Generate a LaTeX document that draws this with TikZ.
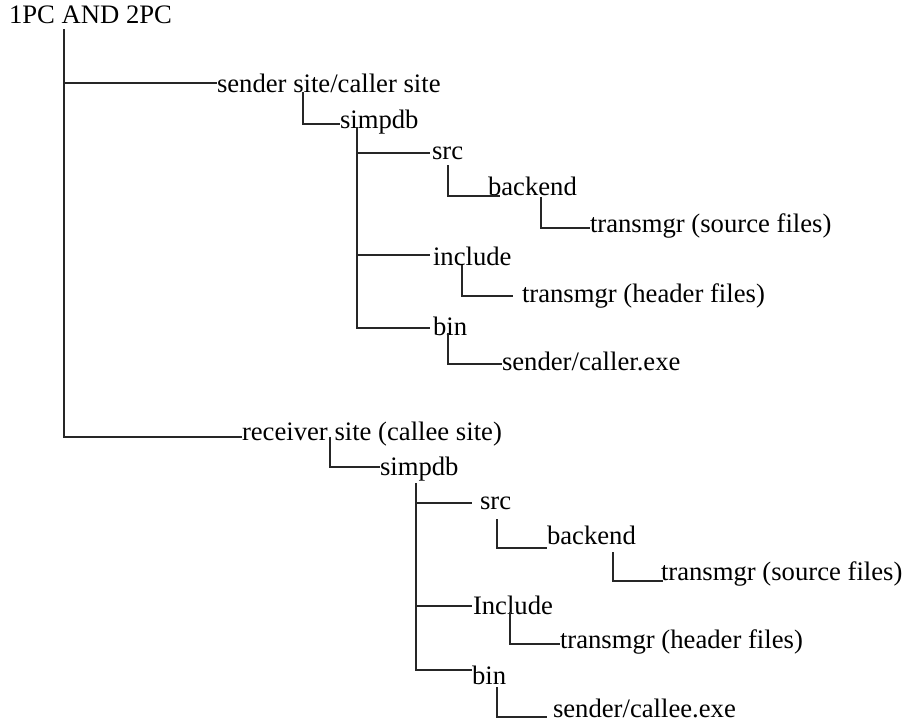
\documentclass[tikz,border=0pt]{standalone}
\usepackage{fontspec}
\setmainfont{Liberation Serif}
\begin{document}
\begin{tikzpicture}[x=0.75pt,y=-0.75pt,
  dirlabel/.style={inner sep=0pt,outer sep=0pt,anchor=base west,
    font=\fontsize{20}{23}\selectfont,text=black},
  branch/.style={draw=black!85,line width=1.2pt}]
\useasboundingbox (0,0) rectangle (910,726);

% directory names (base west anchors)
\node[dirlabel] (root)     at (9,23)    {1PC AND 2PC};
\node[dirlabel] (sender)   at (217,92)  {sender site/caller site};
\node[dirlabel] (simpdb)   at (340,128) {simpdb};
\node[dirlabel] (src)      at (432,159) {src};
\node[dirlabel] (backend)  at (488,195) {backend};
\node[dirlabel] (tsrc)     at (590,232) {transmgr (source files)};
\node[dirlabel] (include)  at (433,265) {include};
\node[dirlabel] (thdr)     at (522,302) {transmgr (header files)};
\node[dirlabel] (bin)      at (433,335) {bin};
\node[dirlabel] (exe)      at (502,370) {sender/caller.exe};

\node[dirlabel] (receiver) at (242,440) {receiver site (callee site)};
\node[dirlabel] (simpdbB)  at (380,475) {simpdb};
\node[dirlabel] (srcB)     at (480,509) {src};
\node[dirlabel] (backendB) at (547,544) {backend};
\node[dirlabel] (tsrcB)    at (661,580) {transmgr (source files)};
\node[dirlabel] (includeB) at (473,614) {Include};
\node[dirlabel] (thdrB)    at (560,648) {transmgr (header files)};
\node[dirlabel] (binB)     at (472,684) {bin};
\node[dirlabel] (exeB)     at (553,717) {sender/callee.exe};

% tree branches: down from parent, then across to child
\draw[branch] ([shift={(55,6)}]root.base west)    |- ([shift={(0,-9)}]sender.base west);
\draw[branch] ([shift={(55,6)}]root.base west)    |- ([shift={(0,-3)}]receiver.base west);

\draw[branch] ([shift={(86,0)}]sender.base west)  |- ([shift={(0,-4)}]simpdb.base west);
\draw[branch] ([shift={(17,-1)}]simpdb.base west) |- ([shift={(-2,-6)}]src.base west);
\draw[branch] ([shift={(17,-1)}]simpdb.base west) |- ([shift={(-3,-10)}]include.base west);
\draw[branch] ([shift={(17,-1)}]simpdb.base west) |- ([shift={(-3,-7)}]bin.base west);
\draw[branch] ([shift={(16,6)}]src.base west)     |- ([shift={(12,1)}]backend.base west);
\draw[branch] ([shift={(53,2)}]backend.base west) |- ([shift={(0,-4)}]tsrc.base west);
\draw[branch] ([shift={(29,0)}]include.base west) |- ([shift={(-9,-6)}]thdr.base west);
\draw[branch] ([shift={(15,-2)}]bin.base west)    |- ([shift={(0,-6)}]exe.base west);

\draw[branch] ([shift={(88,-3)}]receiver.base west) |- ([shift={(0,-8)}]simpdbB.base west);
\draw[branch] ([shift={(36,8)}]simpdbB.base west)   |- ([shift={(-8,-6)}]srcB.base west);
\draw[branch] ([shift={(36,8)}]simpdbB.base west)   |- ([shift={(-1,-8)}]includeB.base west);
\draw[branch] ([shift={(36,8)}]simpdbB.base west)   |- ([shift={(0,-14)}]binB.base west);
\draw[branch] ([shift={(17,10)}]srcB.base west)     |- ([shift={(0,4)}]backendB.base west);
\draw[branch] ([shift={(66,8)}]backendB.base west)  |- ([shift={(2,1)}]tsrcB.base west);
\draw[branch] ([shift={(37,-2)}]includeB.base west) |- ([shift={(0,-4)}]thdrB.base west);
\draw[branch] ([shift={(25,3)}]binB.base west)      |- ([shift={(-6,0)}]exeB.base west);
\end{tikzpicture}
\end{document}
